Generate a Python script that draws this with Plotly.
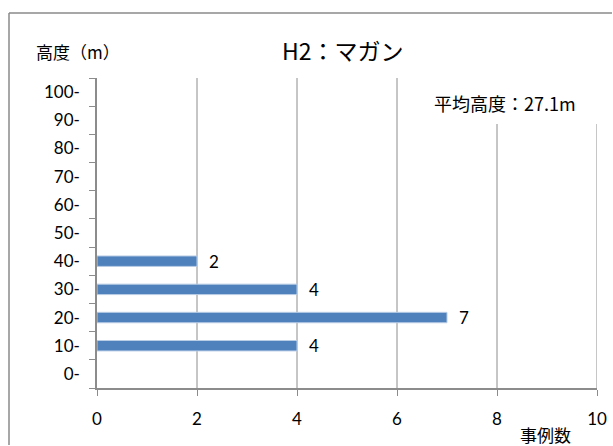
import plotly.graph_objects as go

categories = ["0-", "10-", "20-", "30-", "40-", "50-", "60-", "70-", "80-", "90-", "100-"]
bar_categories = ["10-", "20-", "30-", "40-"]
bar_counts = [4, 7, 4, 2]
x_ticks = [0, 2, 4, 6, 8, 10]
title_text = "H2：マガン"
y_title = "高度（m）"
x_title = "事例数"
mean_text = "平均高度：27.1m"

FONT = "Lato, 'Noto Sans CJK JP', sans-serif"
JP = "'Noto Sans CJK JP', Lato, sans-serif"
GRID = "#8c8c8c"

W, H = 613, 446
L, R, T, B = 97, 16, 78, 58
pw, ph = W - L - R, H - T - B

def px(xp):
    return (xp - L) / pw

def py(yp):
    return (H - B - yp) / ph

fig = go.Figure()
fig.add_trace(go.Bar(
    y=bar_categories, x=bar_counts, orientation="h",
    marker=dict(color="#4F81BD", line=dict(color="#B9CDE5", width=1)),
    width=0.37, hoverinfo="skip",
))

annotations = []
for c, v in zip(bar_categories, bar_counts):
    annotations.append(dict(x=v, y=c, xref="x", yref="y", text=str(v), showarrow=False,
                            xanchor="center", yanchor="middle", xshift=17,
                            font=dict(family=FONT, size=17, color="black")))
annotations += [
    dict(x=px(343), y=py(50), xref="paper", yref="paper", text=title_text, showarrow=False,
         xanchor="center", yanchor="middle", font=dict(family=JP, size=23, color="black")),
    dict(x=px(34), y=py(52), xref="paper", yref="paper", text=y_title, showarrow=False,
         xanchor="left", yanchor="middle", font=dict(family=JP, size=17, color="black")),
    dict(x=px(545), y=py(434), xref="paper", yref="paper", text=x_title, showarrow=False,
         xanchor="center", yanchor="middle", font=dict(family=JP, size=17, color="black")),
    dict(x=px(432), y=py(103), xref="paper", yref="paper", text=mean_text, showarrow=False,
         xanchor="left", yanchor="middle", font=dict(family=JP, size=18, color="black")),
]

# vertical gridlines; those under the mean-height label stop below it
shapes = []
for t in x_ticks[1:]:
    top = py(124) if t >= 7.5 else 1
    shapes.append(dict(type="line", xref="x", yref="paper", x0=t, x1=t, y0=0, y1=top,
                       line=dict(color=GRID, width=1), layer="below"))
shapes += [
    dict(type="line", xref="paper", yref="paper", x0=px(9), x1=px(9), y0=py(13), y1=py(445),
         line=dict(color="#8a8a8a", width=1.5), layer="above"),
    dict(type="line", xref="paper", yref="paper", x0=px(9), x1=px(612), y0=py(13), y1=py(13),
         line=dict(color="#8a8a8a", width=1.5), layer="above"),
]

fig.update_layout(
    width=W, height=H, margin=dict(l=L, r=R, t=T, b=B, autoexpand=False),
    paper_bgcolor="white", plot_bgcolor="white",
    showlegend=False, annotations=annotations, shapes=shapes,
    font=dict(family=FONT, size=17, color="black"),
)
fig.update_xaxes(range=[0, 10], tickvals=x_ticks, ticktext=[str(t) for t in x_ticks],
                 showgrid=False, zeroline=False,
                 showline=True, linecolor=GRID, linewidth=1.5, automargin=False,
                 ticks="outside", ticklen=6, tickcolor=GRID, tickwidth=1,
                 tickfont=dict(family=FONT, size=17, color="black"), ticklabelstandoff=9,
                 fixedrange=True)
fig.update_yaxes(type="category", categoryorder="array", categoryarray=categories,
                 range=[-0.5, len(categories) - 0.5], tickvals=categories,
                 showgrid=False, zeroline=False, automargin=False,
                 showline=True, linecolor=GRID, linewidth=1.5,
                 ticks="outside", ticklen=6, tickcolor=GRID, tickwidth=1, tickson="boundaries",
                 tickfont=dict(family=FONT, size=17, color="black"), ticklabelstandoff=12,
                 fixedrange=True)

fig.write_html("out.html", config={"displayModeBar": False})
